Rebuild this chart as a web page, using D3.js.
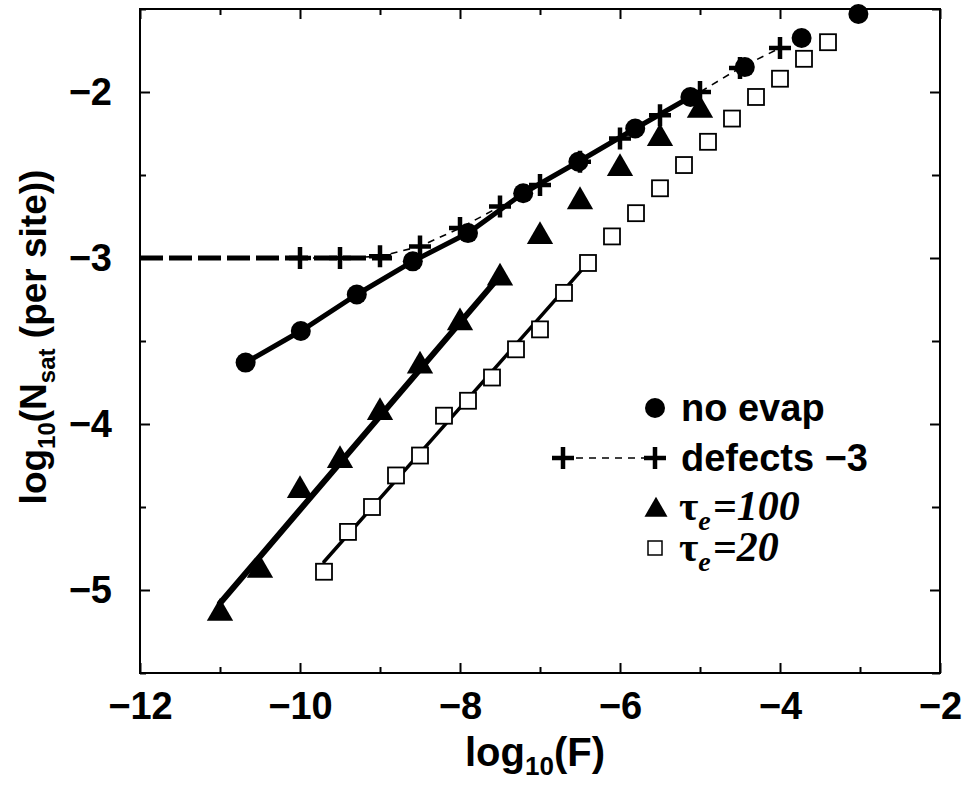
<!DOCTYPE html>
<html>
<head>
<meta charset="utf-8">
<script src="https://cdnjs.cloudflare.com/ajax/libs/d3/7.8.5/d3.min.js"></script>
<style>
  body { margin: 0; background: #fff; }
  svg { display: block; }
</style>
</head>
<body>
<div id="chart"></div>
<script>
// data (log10 values)
var noEvapX = [-10.68, -9.99, -9.29, -8.59, -7.9, -7.21, -6.52, -5.81, -5.12, -4.44, -3.73, -3.02];
var noEvapY = [-3.63, -3.44, -3.22, -3.02, -2.85, -2.61, -2.42, -2.22, -2.03, -1.85, -1.675, -1.53];
var noEvapJoined = 9; // solid line joins the first points only

var defectsX = [-10, -9.5, -9, -8.5, -8, -7.5, -7, -6.5, -6, -5.5, -5, -4.5, -4];
var defectsY = [-3.0, -3.0, -2.99, -2.93, -2.82, -2.69, -2.56, -2.42, -2.28, -2.14, -2.0, -1.855, -1.735];
var defectLevelX = [-12, -8.85];
var defectLevelY = [-3, -3];

var tau100X = [-11, -10.5, -10, -9.5, -9, -8.5, -8, -7.5, -7, -6.5, -6, -5.5, -5];
var tau100Y = [-5.14, -4.88, -4.40, -4.22, -3.93, -3.65, -3.39, -3.12, -2.87, -2.66, -2.46, -2.28, -2.11];
var fit100X = [-11, -7.54];
var fit100Y = [-5.08, -3.13];

var tau20X = [-9.7, -9.4, -9.1, -8.8, -8.5, -8.2, -7.9, -7.6, -7.3, -7.0, -6.7, -6.4, -6.1, -5.8, -5.5, -5.2, -4.9, -4.6, -4.3, -4.0, -3.7, -3.4];
var tau20Y = [-4.89, -4.65, -4.50, -4.31, -4.19, -3.95, -3.86, -3.72, -3.55, -3.43, -3.21, -3.03, -2.87, -2.73, -2.58, -2.44, -2.30, -2.16, -2.03, -1.92, -1.80, -1.70];
var fit20X = [-9.7, -6.42];
var fit20Y = [-4.83, -3.04];

var xTicks = [-12, -10, -8, -6, -4, -2];
var xTickLabels = ["\u221212", "\u221210", "\u22128", "\u22126", "\u22124", "\u22122"];
var xMinor = [-11, -9, -7, -5, -3];
var yTicks = [-2, -3, -4, -5];
var yTickLabels = ["\u22122", "\u22123", "\u22124", "\u22125"];
var yMinor = [-1.5, -2.5, -3.5, -4.5, -5.5];

// svg setup
var svgWidth = 969, svgHeight = 785;
var margin = { top: 9, right: 29, bottom: 112, left: 140 };
var width = svgWidth - margin.left - margin.right;
var height = svgHeight - margin.top - margin.bottom;

var svg = d3.select("#chart").append("svg")
  .attr("width", svgWidth)
  .attr("height", svgHeight);

var chartGroup = svg.append("g")
  .attr("transform", `translate(${margin.left}, ${margin.top})`);

var x = d3.scaleLinear().domain([-12, -2]).range([0, width]);
var y = d3.scaleLinear().domain([-5.5, -1.5]).range([height, 0]);

var sans = "'Liberation Sans', Arial, sans-serif";
var serif = "'Liberation Serif', 'Times New Roman', serif";

// axes, ticks inward on all four sides
function styleAxis(g) {
  g.select(".domain").remove();
  g.selectAll("line").attr("stroke", "#000").attr("stroke-width", 2);
  g.selectAll("text").attr("font-family", sans).attr("font-weight", "bold")
    .attr("font-size", 38).attr("fill", "#000");
}

chartGroup.append("g")
  .attr("transform", `translate(0, ${height})`)
  .call(d3.axisBottom(x).tickValues(xTicks).tickSize(-10).tickPadding(19)
    .tickFormat((d, i) => xTickLabels[i]))
  .call(styleAxis)
  .selectAll("text").attr("dy", "0.71em");

chartGroup.append("g")
  .attr("transform", `translate(0, ${height})`)
  .call(d3.axisBottom(x).tickValues(xMinor).tickSize(-6).tickFormat(""))
  .call(styleAxis);

chartGroup.append("g")
  .call(d3.axisTop(x).tickValues(xTicks).tickSize(-10).tickFormat(""))
  .call(styleAxis);
chartGroup.append("g")
  .call(d3.axisTop(x).tickValues(xMinor).tickSize(-6).tickFormat(""))
  .call(styleAxis);

chartGroup.append("g")
  .call(d3.axisLeft(y).tickValues(yTicks).tickSize(-10).tickPadding(28)
    .tickFormat((d, i) => yTickLabels[i]))
  .call(styleAxis);
chartGroup.append("g")
  .call(d3.axisLeft(y).tickValues(yMinor).tickSize(-6).tickFormat(""))
  .call(styleAxis);

chartGroup.append("g")
  .attr("transform", `translate(${width}, 0)`)
  .call(d3.axisRight(y).tickValues(yTicks).tickSize(-10).tickFormat(""))
  .call(styleAxis);
chartGroup.append("g")
  .attr("transform", `translate(${width}, 0)`)
  .call(d3.axisRight(y).tickValues(yMinor).tickSize(-8).tickFormat(""))
  .call(styleAxis);

chartGroup.append("rect")
  .attr("width", width).attr("height", height)
  .attr("fill", "none").attr("stroke", "#000").attr("stroke-width", 2);

// lines
var line = d3.line().x(d => x(d[0])).y(d => y(d[1]));
function pairs(xs, ys) { return xs.map((v, i) => [v, ys[i]]); }

var noEvap = pairs(noEvapX, noEvapY);
var defects = pairs(defectsX, defectsY);
var tau100 = pairs(tau100X, tau100Y);
var tau20 = pairs(tau20X, tau20Y);

chartGroup.append("path")
  .datum(pairs(defectLevelX, defectLevelY))
  .attr("d", line).attr("fill", "none").attr("stroke", "#000")
  .attr("stroke-width", 5).attr("stroke-dasharray", "23,6");

chartGroup.append("path")
  .datum(defects)
  .attr("d", line).attr("fill", "none").attr("stroke", "#000")
  .attr("stroke-width", 1.6).attr("stroke-dasharray", "7,6");

chartGroup.append("path")
  .datum(noEvap.slice(0, noEvapJoined))
  .attr("d", line).attr("fill", "none").attr("stroke", "#000")
  .attr("stroke-width", 5).attr("stroke-linejoin", "round");

chartGroup.append("path")
  .datum(pairs(fit100X, fit100Y))
  .attr("d", line).attr("fill", "none").attr("stroke", "#000")
  .attr("stroke-width", 6).attr("stroke-linecap", "round");

chartGroup.append("path")
  .datum(pairs(fit20X, fit20Y))
  .attr("d", line).attr("fill", "none").attr("stroke", "#000")
  .attr("stroke-width", 3.5).attr("stroke-linecap", "round");

// markers
var triangle = d3.symbol().type(d3.symbolTriangle).size(300);
var crossPath = "M-11,0H11M0,-11V11";

chartGroup.selectAll(".sq")
  .data(tau20).enter().append("rect")
  .attr("x", d => x(d[0]) - 8).attr("y", d => y(d[1]) - 8)
  .attr("width", 16).attr("height", 16)
  .attr("fill", "#fff").attr("stroke", "#000").attr("stroke-width", 1.8);

chartGroup.selectAll(".tri")
  .data(tau100).enter().append("path")
  .attr("d", triangle)
  .attr("transform", d => `translate(${x(d[0])}, ${y(d[1])})`)
  .attr("fill", "#000");

chartGroup.selectAll(".dot")
  .data(noEvap).enter().append("circle")
  .attr("cx", d => x(d[0])).attr("cy", d => y(d[1]))
  .attr("r", 10).attr("fill", "#000");

chartGroup.selectAll(".cross")
  .data(defects).enter().append("path")
  .attr("d", crossPath)
  .attr("transform", d => `translate(${x(d[0])}, ${y(d[1])})`)
  .attr("stroke", "#000").attr("stroke-width", 4.5).attr("fill", "none");

// legend
var legend = svg.append("g");
legend.append("circle").attr("cx", 655).attr("cy", 408).attr("r", 10).attr("fill", "#000");
legend.append("text").attr("x", 681).attr("y", 421)
  .attr("font-family", sans).attr("font-weight", "bold").attr("font-size", 38)
  .text("no evap");

legend.append("line").attr("x1", 563).attr("x2", 655).attr("y1", 458).attr("y2", 458)
  .attr("stroke", "#000").attr("stroke-width", 1.6).attr("stroke-dasharray", "7,6");
[563, 655].forEach(function(cx) {
  legend.append("path").attr("d", crossPath)
    .attr("transform", `translate(${cx}, 458)`)
    .attr("stroke", "#000").attr("stroke-width", 4.5);
});
legend.append("text").attr("x", 681).attr("y", 471)
  .attr("font-family", sans).attr("font-weight", "bold").attr("font-size", 38)
  .text("defects \u22123");

legend.append("path").attr("d", d3.symbol().type(d3.symbolTriangle).size(230))
  .attr("transform", "translate(656, 510)").attr("fill", "#000");
var t1 = legend.append("text").attr("x", 679).attr("y", 520)
  .attr("font-family", serif).attr("font-weight", "bold").attr("font-size", 42);
t1.append("tspan").text("\u03c4");
t1.append("tspan").attr("font-style", "italic").attr("font-size", 28).attr("dy", 10).text("e");
t1.append("tspan").attr("font-style", "italic").attr("dx", 2).attr("dy", -10).text("=100");

legend.append("rect").attr("x", 648).attr("y", 541).attr("width", 14).attr("height", 14)
  .attr("fill", "#fff").attr("stroke", "#000").attr("stroke-width", 1.5);
var t2 = legend.append("text").attr("x", 679).attr("y", 561)
  .attr("font-family", serif).attr("font-weight", "bold").attr("font-size", 42);
t2.append("tspan").text("\u03c4");
t2.append("tspan").attr("font-style", "italic").attr("font-size", 28).attr("dy", 10).text("e");
t2.append("tspan").attr("font-style", "italic").attr("dx", 2).attr("dy", -10).text("=20");

// axis titles
var xTitle = svg.append("text").attr("x", 535).attr("y", 766)
  .attr("text-anchor", "middle").attr("font-family", sans)
  .attr("font-weight", "bold").attr("font-size", 40);
xTitle.append("tspan").text("log");
xTitle.append("tspan").attr("font-size", 26).attr("dy", 9).text("10");
xTitle.append("tspan").attr("dy", -9).text("(F)");

var yTitle = svg.append("text")
  .attr("transform", "translate(46, 337) rotate(-90)")
  .attr("text-anchor", "middle").attr("font-family", sans)
  .attr("font-weight", "bold").attr("font-size", 37);
yTitle.append("tspan").text("log");
yTitle.append("tspan").attr("font-size", 24).attr("dy", 9).text("10");
yTitle.append("tspan").attr("dy", -9).text("(N");
yTitle.append("tspan").attr("font-size", 24).attr("dy", 9).text("sat");
yTitle.append("tspan").attr("dy", -9).text(" (per site))");
</script>
</body>
</html>
